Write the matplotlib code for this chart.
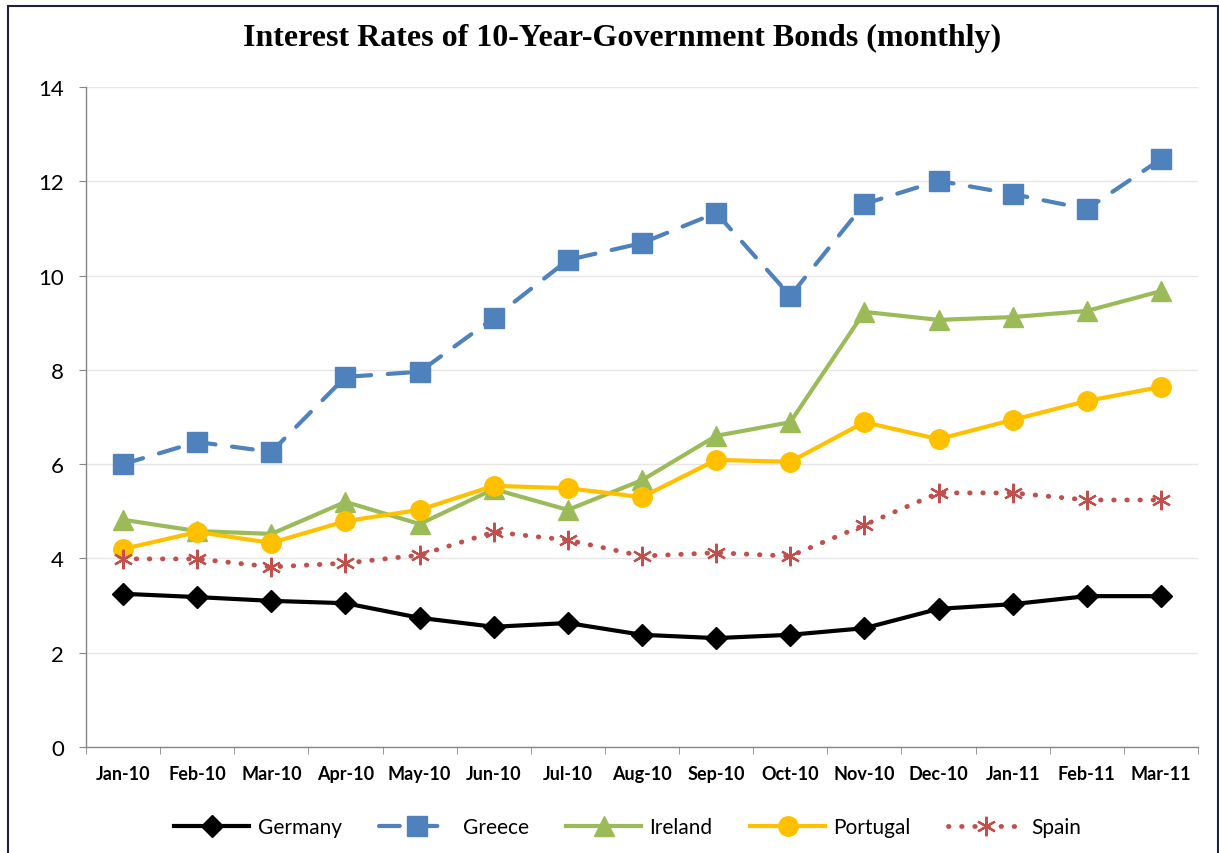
import numpy as np
import matplotlib
matplotlib.use("Agg")
import matplotlib.pyplot as plt
from matplotlib.patches import Rectangle

# Datos (tasas en %)
months = ["Jan-10", "Feb-10", "Mar-10", "Apr-10", "May-10", "Jun-10", "Jul-10", "Aug-10",
          "Sep-10", "Oct-10", "Nov-10", "Dec-10", "Jan-11", "Feb-11", "Mar-11"]
germany = [3.25, 3.18, 3.10, 3.05, 2.74, 2.55, 2.63, 2.38, 2.31, 2.38, 2.52, 2.93, 3.03, 3.20, 3.20]
greece = [6.00, 6.47, 6.26, 7.85, 7.96, 9.10, 10.33, 10.69, 11.33, 9.57, 11.52, 12.01, 11.73, 11.41, 12.47]
ireland = [4.82, 4.58, 4.52, 5.20, 4.73, 5.47, 5.03, 5.66, 6.60, 6.89, 9.23, 9.06, 9.12, 9.25, 9.67]
portugal = [4.20, 4.56, 4.33, 4.79, 5.03, 5.54, 5.49, 5.30, 6.09, 6.05, 6.89, 6.53, 6.94, 7.34, 7.64]
spain = [3.99, 3.99, 3.82, 3.90, 4.07, 4.56, 4.39, 4.05, 4.12, 4.05, 4.71, 5.39, 5.39, 5.24, 5.24]

FONT = ["Lato", "DejaVu Sans"]

W, H = 1219, 854
fig = plt.figure(figsize=(W / 100, H / 100), dpi=100)
ax = fig.add_axes([86 / W, 1 - 748 / H, (1198 - 86) / W, (748 - 88) / H])

x = np.arange(len(months))

ax.plot(x, germany, color="black", lw=3, marker="D", ms=11, label="Germany", zorder=5)
ax.plot(x, greece, color="#4F81BD", lw=3, ls=(0, (5, 4)), marker="s", ms=15,
        dash_capstyle="round", label="Greece", zorder=5)
ax.plot(x, ireland, color="#9BBB59", lw=3, marker="^", ms=14, label="Ireland", zorder=5)
ax.plot(x, portugal, color="#FFC000", lw=3, marker="o", ms=14, label="Portugal", zorder=5)
ax.plot(x, spain, color="#C0504D", lw=3.5, ls=(0, (0.1, 2.6)), dash_capstyle="round",
        marker=(6, 2, 0), ms=14, mew=1.6, label="Spain", zorder=5)

ax.set_xlim(-0.5, len(months) - 0.5)
ax.set_ylim(0, 14)
ax.set_yticks(np.arange(0, 15, 2))
ax.set_xticks(x)
ax.set_xticklabels(months, fontsize=13, fontweight="bold", family=FONT)
ax.set_xticks(np.arange(-0.5, len(months), 1), minor=True)
ax.tick_params(axis="x", which="major", length=0, pad=13)
ax.tick_params(axis="x", which="minor", length=5, color="#868686", direction="out")
ax.tick_params(axis="y", length=5, color="#868686", pad=11, labelsize=16)
for lab in ax.get_yticklabels():
    lab.set_family(FONT)

ax.grid(axis="y", color="#E6E6E6", lw=1)
ax.set_axisbelow(True)
for s in ["top", "right"]:
    ax.spines[s].set_visible(False)
for s in ["left", "bottom"]:
    ax.spines[s].set_color("#868686")
    ax.spines[s].set_linewidth(1)

fig.text(622 / W, 1 - 38 / H, "Interest Rates of 10-Year-Government Bonds (monthly)",
         ha="center", va="center", fontsize=23, fontweight="bold", family="Liberation Serif")

leg = fig.legend(loc="center", bbox_to_anchor=(628 / W, 1 - 828 / H), ncol=5, frameon=False,
                 handlelength=3.6, columnspacing=1.8, handletextpad=0.4,
                 prop={"family": FONT, "size": 15})

# marco de la figura
fig.patches.append(Rectangle((8 / W, -0.05), (1218 - 8) / W, 1.05 - 7 / H,
                             transform=fig.transFigure, fill=False,
                             edgecolor="#1F1F3F", lw=1.5))

fig.savefig("out.png", dpi=100)
